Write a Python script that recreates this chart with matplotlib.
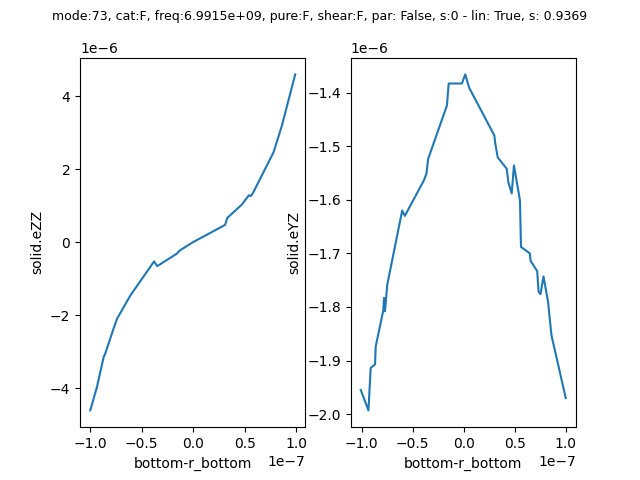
import numpy as np
import matplotlib
matplotlib.use("Agg")
import matplotlib.pyplot as plt

# left panel: solid.eZZ vs bottom-r_bottom (units 1e-7, 1e-6)
x_zz = [-1.0, -0.935, -0.87, -0.855, -0.775, -0.74, -0.61, -0.38, -0.35, -0.16,
        -0.13, 0.0, 0.31, 0.33, 0.47, 0.54, 0.56, 0.585, 0.78, 0.86, 0.99]
y_zz = [-4.6, -3.96, -3.14, -3.05, -2.37, -2.09, -1.45, -0.52, -0.65, -0.31,
        -0.22, 0.01, 0.48, 0.67, 1.03, 1.29, 1.27, 1.38, 2.47, 3.19, 4.6]

# right panel: solid.eYZ
x_yz = [-1.008, -0.933, -0.911, -0.868, -0.862, -0.787, -0.780, -0.771, -0.748,
        -0.602, -0.576, -0.390, -0.364, -0.348, -0.163, -0.146, -0.016, 0.016,
        0.055, 0.302, 0.309, 0.335, 0.423, 0.439, 0.472, 0.494, 0.553, 0.563,
        0.650, 0.657, 0.722, 0.735, 0.754, 0.784, 0.829, 0.862, 1.002]
y_yz = [-1.955, -1.993, -1.914, -1.907, -1.874, -1.806, -1.783, -1.808, -1.758,
        -1.620, -1.630, -1.564, -1.551, -1.524, -1.424, -1.383, -1.383, -1.366,
        -1.391, -1.480, -1.493, -1.521, -1.542, -1.567, -1.588, -1.536, -1.601,
        -1.688, -1.700, -1.714, -1.733, -1.771, -1.776, -1.743, -1.791, -1.853,
        -1.970]

fig, (ax1, ax2) = plt.subplots(1, 2, figsize=(6.4, 4.8), dpi=100)
fig.suptitle("mode:73, cat:F, freq:6.9915e+09, pure:F, shear:F, par: False, s:0 - lin: True, s: 0.9369",
             fontsize=9)

ax1.plot(np.array(x_zz) * 1e-7, np.array(y_zz) * 1e-6)
ax1.set_xlabel("bottom-r_bottom")
ax1.set_ylabel("solid.eZZ")

ax2.plot(np.array(x_yz) * 1e-7, np.array(y_yz) * 1e-6)
ax2.set_xlabel("bottom-r_bottom")
ax2.set_ylabel("solid.eYZ")

fig.savefig("out.png")
